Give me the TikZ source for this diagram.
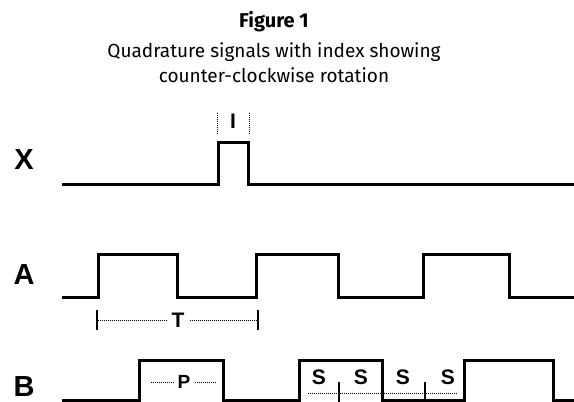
\documentclass[tikz,border=0pt]{standalone}
\usepackage{fontspec}
\setmainfont{Liberation Sans}
\newfontfamily\titlefont{Fira Sans}
\usetikzlibrary{positioning}

\begin{document}
\begin{tikzpicture}[x=1pt, y=-1pt,
  sig/.style = {line width=3pt, line join=miter},
  lbl/.style = {font=\bfseries\fontsize{29}{29}\selectfont},
  tag/.style = {font=\bfseries\fontsize{21}{21}\selectfont, inner sep=5pt},
  dim/.style = {line width=1pt, dash pattern=on 1pt off 1pt},
  tick/.style = {line width=1.3pt}]
\useasboundingbox (0,0) rectangle (574,402);

% title
\node[anchor=base, font=\titlefont\bfseries\fontsize{20}{20}\selectfont] (fig) at (274,27) {Figure 1};
\node[anchor=base, font=\titlefont\fontsize{19}{19}\selectfont] (cap1) at (274,57) {Quadrature signals with index showing};
\node[anchor=base, font=\titlefont\fontsize{19}{19}\selectfont] (cap2) at (274,82) {counter-clockwise rotation};

% channel names
\node[lbl] (X) at (24,160) {X};
\node[lbl] (A) at (24,275) {A};
\node[lbl] (B) at (24,387) {B};

% waveforms
\draw[sig] (62,184) -- (218,184) |- (248,142) |- (574,184);
\draw[sig] (62,297) -- (98,297) |- (177,254) |- (256,297) |- (338,254) |- (423,297) |- (509,254) |- (574,297);
\draw[sig] (62,400) -- (139,400) |- (223,360) |- (299,400) |- (382,360) |- (464,400) |- (553,360) |- (574,400);

% index width
\node[tag] (I) at (233,121) {I};
\coordinate (i1) at (217,113); \coordinate (i2) at (217,135);
\coordinate (i3) at (249,113); \coordinate (i4) at (249,135);
\draw[dim] (i1)--(i2); \draw[dim] (i3)--(i4);

% period
\node[tag] (T) at (178,320) {T};
\coordinate (t1) at (97,310); \coordinate (t2) at (97,330);
\coordinate (t3) at (258,310); \coordinate (t4) at (258,330);
\draw[tick] (t1)--(t2); \draw[tick] (t3)--(t4);
\draw[dim] (98,320)--(T); \draw[dim] (T)--(257,320);

% pulse
\node[tag, font=\bfseries\fontsize{19}{19}\selectfont, inner sep=4pt] (P) at (184,382) {P};
\coordinate (p1) at (151,382); \coordinate (p2) at (215,382);
\draw[dim] (p1)--(P); \draw[dim] (P)--(p2);

% states
\node[tag] (S1) at (319,377) {S};
\node[tag] (S2) at (361,377) {S};
\node[tag] (S3) at (403,377) {S};
\node[tag] (S4) at (448,377) {S};
\coordinate (s1) at (308,393); \coordinate (s2) at (457,393);
\draw[dim] (s1)--(s2);
\coordinate (k1) at (339,382); \coordinate (k2) at (339,402);
\coordinate (k3) at (425,382); \coordinate (k4) at (425,402);
\draw[tick] (k1)--(k2); \draw[tick] (k3)--(k4);

\end{tikzpicture}
\end{document}
